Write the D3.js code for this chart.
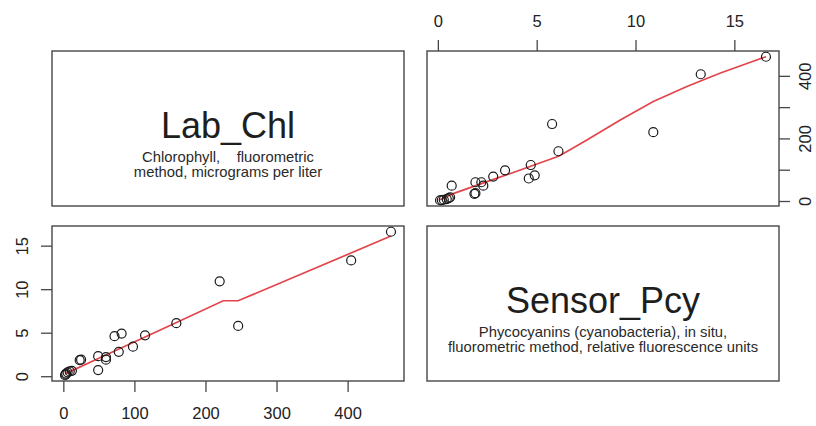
<!DOCTYPE html>
<html>
<head>
<meta charset="utf-8">
<script src="https://cdn.jsdelivr.net/npm/d3@7"></script>
<style>
  html, body { margin: 0; padding: 0; background: #fff; }
  svg { display: block; font-family: "Liberation Sans", Arial, Helvetica, sans-serif; }
</style>
</head>
<body>
<svg id="chart" width="816" height="426"></svg>
<script>
// Paired observations: lab chlorophyll (µg/L) and in-situ phycocyanin sensor (RFU)
const labChl    = [461, 405, 220, 246, 159, 115, 72, 82, 98, 78, 60, 60, 49, 23, 25, 49, 2.4, 4, 6, 9, 12, 3];
const sensorPcy = [16.6, 13.3, 10.9, 5.78, 6.1, 4.7, 4.6, 4.9, 3.4, 2.8, 1.9, 2.2, 2.3, 1.85, 1.9, 0.7, 0.11, 0.3, 0.45, 0.55, 0.62, 0.2];

// Smoothed trend, Lab_Chl as a function of Sensor_Pcy (upper panel)
const smoothUpperPcy = [0.11, 0.81, 2.49, 4.17, 6.14, 7.54, 9.23, 10.9, 12.6, 14.3, 16.6];
const smoothUpperChl = [4, 24.5, 62, 99, 144, 195, 259, 318, 366, 409, 461];

// Smoothed trend, Sensor_Pcy as a function of Lab_Chl (lower panel)
const smoothLowerChl = [2.4, 50, 115, 160, 225, 246, 461];
const smoothLowerPcy = [0.27, 2.07, 4.51, 6.21, 8.67, 8.67, 16.1];

// Variable names and descriptions
const varNames = ["Lab_Chl", "Sensor_Pcy"];
const varDesc = [
  ["Chlorophyll,    fluorometric", "method, micrograms per liter"],
  ["Phycocyanins (cyanobacteria), in situ,", "fluorometric method, relative fluorescence units"]
];

// Tick values
const chlTicks = [0, 100, 200, 300, 400];
const chlLabelled = [0, 200, 400];
const pcyTicks = [0, 5, 10, 15];

const svg = d3.select("#chart");

// Panel grid
const cols = [[52, 404], [427, 779]];
const rows = [[51, 206], [226, 381]];

// Padded domains (4% either side of the data range)
function padded(arr) {
  const [lo, hi] = d3.extent(arr);
  const p = (hi - lo) * 0.04;
  return [lo - p, hi + p];
}
const chlDom = padded(labChl);
const pcyDom = padded(sensorPcy);

const boxColor = "#474747";
const inkColor = "#1a1a1a";
const lineColor = "#e2454b";

function drawBox(c, r) {
  svg.append("rect")
    .attr("x", cols[c][0]).attr("y", rows[r][0])
    .attr("width", cols[c][1] - cols[c][0])
    .attr("height", rows[r][1] - rows[r][0])
    .attr("fill", "none").attr("stroke", boxColor).attr("stroke-width", 1.4);
}

function styleAxis(g) {
  g.select(".domain").remove();
  g.selectAll(".tick line").attr("stroke", boxColor).attr("stroke-width", 1.3);
  g.selectAll("text").attr("fill", "#222").attr("font-size", 16.5)
    .attr("font-family", "Liberation Sans, Arial, sans-serif");
}

// ---------- Diagonal panels: variable names ----------
varNames.forEach((name, i) => {
  drawBox(i, i);
  const cx = (cols[i][0] + cols[i][1]) / 2;
  const cy = (rows[i][0] + rows[i][1]) / 2;
  svg.append("text")
    .attr("x", cx).attr("y", cy + 9)
    .attr("text-anchor", "middle")
    .attr("font-size", 36).attr("fill", "#1e1e1e")
    .text(name);
  varDesc[i].forEach((line, k) => {
    svg.append("text")
      .attr("x", cx).attr("y", cy + 9 + 24.6 + k * 14.6)
      .attr("text-anchor", "middle")
      .attr("font-size", 14.8).attr("fill", "#2a2a2a")
      .style("white-space", "pre")
      .attr("xml:space", "preserve")
      .text(line);
  });
});

// ---------- Upper panel: x = Sensor_Pcy, y = Lab_Chl ----------
{
  const x = d3.scaleLinear().domain(pcyDom).range(cols[1]);
  const y = d3.scaleLinear().domain(chlDom).range([rows[0][1], rows[0][0]]);
  drawBox(1, 0);

  const pts = labChl.map((v, i) => ({ x: sensorPcy[i], y: v }));
  const sm = smoothUpperPcy.map((v, i) => ({ x: v, y: smoothUpperChl[i] }));

  svg.append("path").datum(sm)
    .attr("d", d3.line().x(d => x(d.x)).y(d => y(d.y)))
    .attr("fill", "none").attr("stroke", lineColor).attr("stroke-width", 1.7);

  svg.append("g").selectAll("circle").data(pts).join("circle")
    .attr("cx", d => x(d.x)).attr("cy", d => y(d.y)).attr("r", 4.5)
    .attr("fill", "none").attr("stroke", inkColor).attr("stroke-width", 1.2);

  // top axis
  const top = svg.append("g").attr("transform", `translate(0,${rows[0][0]})`)
    .call(d3.axisTop(x).tickValues(pcyTicks).tickSize(11).tickFormat(d3.format("d")));
  styleAxis(top);
  top.selectAll("text").attr("y", -24).attr("dy", 0);

  // right axis (labels on alternate ticks)
  const right = svg.append("g").attr("transform", `translate(${cols[1][1]},0)`)
    .call(d3.axisRight(y).tickValues(chlTicks).tickSize(11)
      .tickFormat(d => chlLabelled.includes(d) ? d3.format("d")(d) : ""));
  styleAxis(right);
  right.selectAll("text")
    .attr("transform", "rotate(-90)")
    .attr("x", 0).attr("y", 32).attr("dy", 0)
    .attr("text-anchor", "middle");
}

// ---------- Lower panel: x = Lab_Chl, y = Sensor_Pcy ----------
{
  const x = d3.scaleLinear().domain(chlDom).range(cols[0]);
  const y = d3.scaleLinear().domain(pcyDom).range([rows[1][1], rows[1][0]]);
  drawBox(0, 1);

  const pts = labChl.map((v, i) => ({ x: v, y: sensorPcy[i] }));
  const sm = smoothLowerChl.map((v, i) => ({ x: v, y: smoothLowerPcy[i] }));

  svg.append("path").datum(sm)
    .attr("d", d3.line().x(d => x(d.x)).y(d => y(d.y)))
    .attr("fill", "none").attr("stroke", lineColor).attr("stroke-width", 1.7);

  svg.append("g").selectAll("circle").data(pts).join("circle")
    .attr("cx", d => x(d.x)).attr("cy", d => y(d.y)).attr("r", 4.5)
    .attr("fill", "none").attr("stroke", inkColor).attr("stroke-width", 1.2);

  // bottom axis
  const bottom = svg.append("g").attr("transform", `translate(0,${rows[1][1]})`)
    .call(d3.axisBottom(x).tickValues(chlTicks).tickSize(11).tickFormat(d3.format("d")));
  styleAxis(bottom);
  bottom.selectAll("text").attr("y", 38).attr("dy", 0);

  // left axis
  const left = svg.append("g").attr("transform", `translate(${cols[0][0]},0)`)
    .call(d3.axisLeft(y).tickValues(pcyTicks).tickSize(11).tickFormat(d3.format("d")));
  styleAxis(left);
  left.selectAll("text")
    .attr("transform", "rotate(-90)")
    .attr("x", 0).attr("y", -24.5).attr("dy", 0)
    .attr("text-anchor", "middle");
}
</script>
</body>
</html>
